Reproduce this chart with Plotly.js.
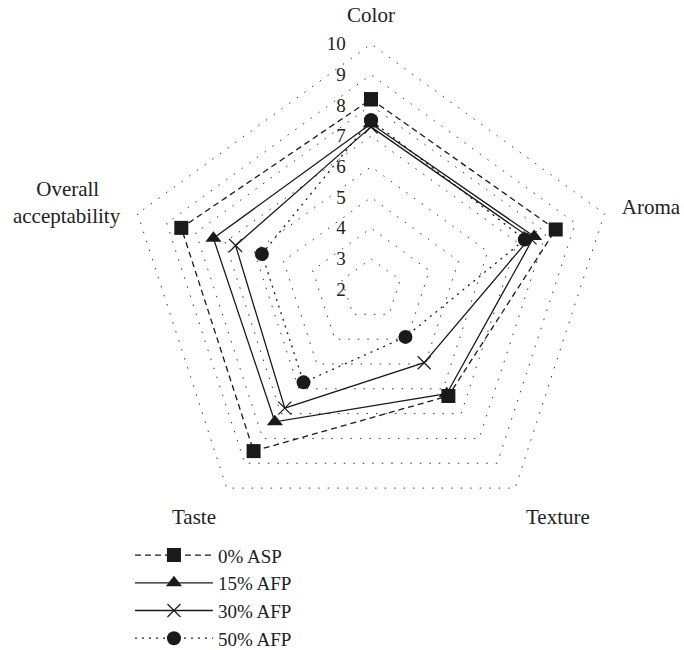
<!DOCTYPE html>
<html>
<head>
<meta charset="utf-8">
<script src="https://cdn.plot.ly/plotly-3.0.1.min.js"></script>
<style>html,body{margin:0;padding:0;background:#fff;}#chart{width:684px;height:650px;}</style>
</head>
<body>
<div id="chart"></div>
<script>
// Categories (angular axis, clockwise from top)
const categories = ['Color', 'Aroma', 'Texture', 'Taste', 'Overall\u00A0\u00A0\u00A0\u00A0<br>acceptability'];
// Series values (sensory scores)
const asp0  = [8.2, 8.33, 6.29, 8.51, 8.5];
const afp15 = [7.4, 7.59, 6.2, 7.33, 7.4];
const afp30 = [7.3, 7.45, 4.95, 6.78, 6.64];
const afp50 = [7.52, 7.27, 3.91, 5.74, 5.74];
const seriesNames = ['0% ASP', '15% AFP', '30% AFP', '50% AFP'];
const radialTicks = [2, 3, 4, 5, 6, 7, 8, 9, 10];

const ink = '#1a1a1a';
const fontFam = '"Liberation Serif", "DejaVu Serif", serif';
const styles = [
  {dash: '6px,4px', symbol: 'square'},
  {dash: 'solid', symbol: 'triangle-up'},
  {dash: 'solid', symbol: 'x-thin'},
  {dash: '2px,5px', symbol: 'circle'}
];
const series = [asp0, afp15, afp30, afp50];

const traces = series.map((vals, i) => ({
  type: 'scatterpolar',
  mode: 'lines+markers',
  name: seriesNames[i],
  legendgroup: 'g' + i,
  r: vals.concat([vals[0]]),
  theta: categories.concat([categories[0]]),
  line: {color: ink, width: 1.3, dash: styles[i].dash},
  marker: {
    symbol: styles[i].symbol,
    size: styles[i].symbol === 'x-thin' ? 13 : 14,
    color: ink,
    line: {color: ink, width: styles[i].symbol === 'x-thin' ? 1.2 : 0}
  },
  cliponaxis: false
}));

const layout = {
  width: 684,
  height: 650,
  margin: {l: 0, r: 0, t: 0, b: 0, autoexpand: false},
  paper_bgcolor: '#fff',
  plot_bgcolor: '#fff',
  font: {family: fontFam, color: '#222', size: 19},
  showlegend: true,
  legend: {
    x: 0.19, y: 0.175, xanchor: 'left', yanchor: 'top',
    font: {family: fontFam, size: 19, color: '#222'},
    itemwidth: 78,
    traceorder: 'grouped',
    tracegroupgap: 0,
    bgcolor: 'rgba(0,0,0,0)'
  },
  polar: {
    domain: {x: [124 / 684, 618 / 684], y: [1 - 536.5 / 650, 1 - 42.5 / 650]},
    bgcolor: '#fff',
    gridshape: 'linear',
    radialaxis: {
      range: [2, 10.05],
      tickvals: radialTicks,
      ticktext: radialTicks.map(String),
      angle: 90,
      side: 'counterclockwise',
      tickangle: 90,
      showline: false,
      ticks: 'outside',
      ticklen: 18,
      tickcolor: 'rgba(0,0,0,0)',
      showgrid: true,
      gridcolor: '#333',
      gridwidth: 1,
      griddash: '1.5px,8px',
      tickfont: {family: fontFam, size: 19, color: '#222'}
    },
    angularaxis: {
      type: 'category',
      categoryorder: 'array',
      categoryarray: categories,
      direction: 'clockwise',
      rotation: 90,
      showgrid: false,
      showline: false,
      ticks: 'outside',
      ticklen: 12,
      tickcolor: 'rgba(0,0,0,0)',
      tickfont: {family: fontFam, size: 21, color: '#222'}
    }
  }
};

Plotly.newPlot('chart', traces, layout, {displayModeBar: false, staticPlot: true});
</script>
</body>
</html>
